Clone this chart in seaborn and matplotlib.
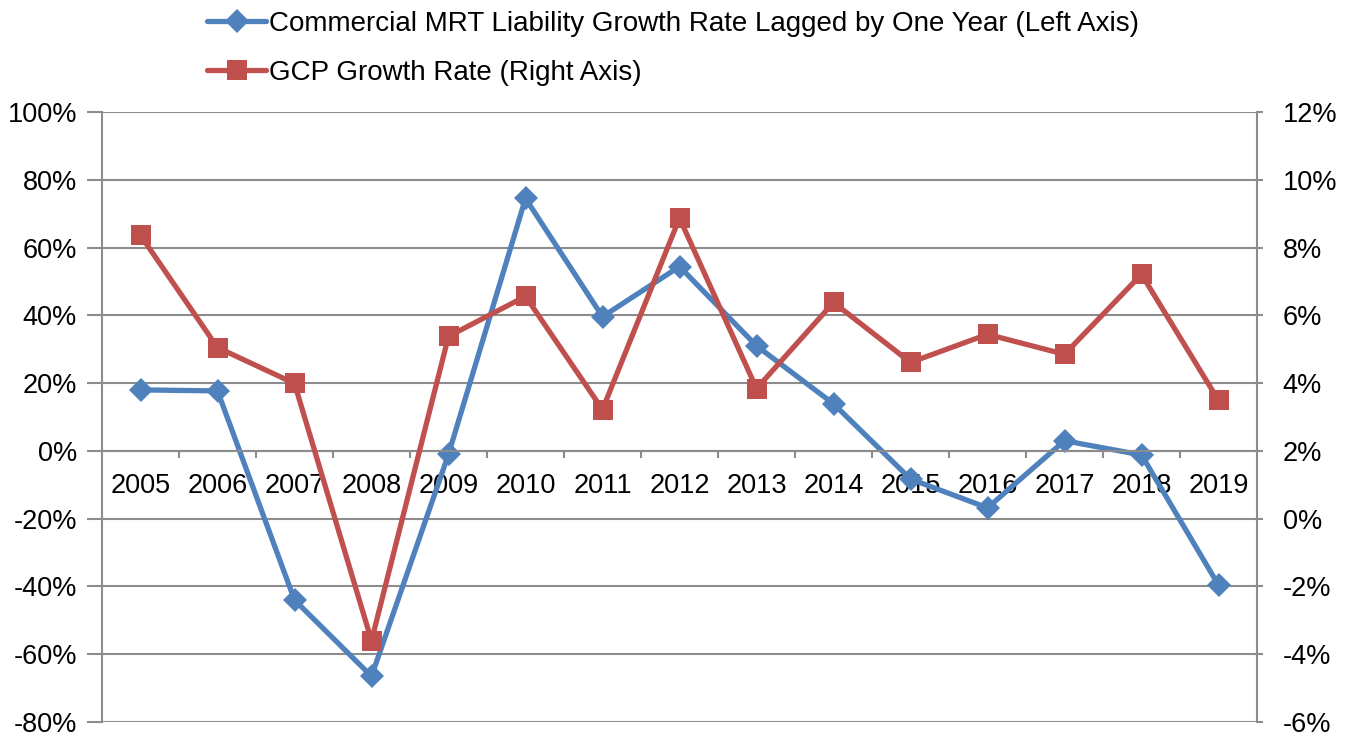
import numpy as np
import pandas as pd
import matplotlib
matplotlib.use("Agg")
import matplotlib.pyplot as plt
import seaborn as sns
from matplotlib.ticker import FuncFormatter, FixedLocator

years = [2005, 2006, 2007, 2008, 2009, 2010, 2011, 2012, 2013, 2014, 2015, 2016, 2017, 2018, 2019]
mrt_growth = [18.0, 17.7, -44.0, -66.5, -1.0, 74.5, 39.6, 54.4, 31.0, 13.9, -8.3, -16.8, 3.0, -1.2, -39.6]
gcp_growth = [8.36, 5.05, 3.99, -3.6, 5.38, 6.56, 3.22, 8.87, 3.84, 6.38, 4.61, 5.44, 4.85, 7.21, 3.49]
left_ticks = [-80, -60, -40, -20, 0, 20, 40, 60, 80, 100]
right_ticks = [-6, -4, -2, 0, 2, 4, 6, 8, 10, 12]
label_mrt = "Commercial MRT Liability Growth Rate Lagged by One Year (Left Axis)"
label_gcp = "GCP Growth Rate (Right Axis)"

sns.set_style("white")
plt.rcParams['font.family'] = ['Liberation Sans', 'DejaVu Sans']
plt.rcParams['text.color'] = 'black'
plt.rcParams['xtick.labelcolor'] = 'black'
plt.rcParams['ytick.labelcolor'] = 'black'

blue = "#4F81BD"
red = "#C0504D"
grid_c = "#8C8C8C"

df = pd.DataFrame({"year": years, "mrt": mrt_growth, "gcp": gcp_growth})

fig = plt.figure(figsize=(13.53, 7.36), dpi=100)
ax = fig.add_axes([102/1353, 1-722/736, (1257-102)/1353, (722-112)/736])
ax2 = ax.twinx()

sns.lineplot(data=df, x="year", y="mrt", ax=ax, color=blue, linewidth=3.8,
             marker="D", markersize=12, markeredgewidth=0, label=label_mrt, legend=False)
sns.lineplot(data=df, x="year", y="gcp", ax=ax2, color=red, linewidth=3.8,
             marker="s", markersize=15, markeredgewidth=0, label=label_gcp, legend=False)

ax.set_xlim(years[0]-0.5, years[-1]+0.5)
ax.set_ylim(left_ticks[0], left_ticks[-1])
ax2.set_ylim(right_ticks[0], right_ticks[-1])
ax.set_yticks(left_ticks)
ax2.set_yticks(right_ticks)
ax.yaxis.set_major_formatter(FuncFormatter(lambda v, p: f"{v:.0f}%"))
ax2.yaxis.set_major_formatter(FuncFormatter(lambda v, p: f"{v:.0f}%"))
ax.set_xticks(years)
ax.set_xticklabels([str(y) for y in years])
ax.xaxis.set_minor_locator(FixedLocator([y + 0.5 for y in years[:-1]]))
ax.set_xlabel("")
ax.set_ylabel("")
ax2.set_ylabel("")

ax.grid(axis="y", color=grid_c, linewidth=1.5)
ax.set_axisbelow(True)
ax2.grid(False)

for sp in ["top"]:
    ax.spines[sp].set_visible(False)
    ax2.spines[sp].set_visible(False)
ax.spines["bottom"].set_position(("data", 0))
ax2.spines["bottom"].set_visible(False)
ax2.spines["left"].set_visible(False)
ax.spines["right"].set_visible(False)
for s in [ax.spines["left"], ax.spines["bottom"], ax2.spines["right"]]:
    s.set_color(grid_c)
    s.set_linewidth(1.5)

ax.tick_params(axis="y", which="major", direction="out", length=11, width=1.5, color=grid_c,
               labelsize=19.5, pad=7, left=True, labelcolor="black")
ax2.tick_params(axis="y", which="major", direction="out", length=4.5, width=1.5, color=grid_c,
                labelsize=19.5, pad=14, right=True, labelcolor="black")
ax.tick_params(axis="x", which="major", length=0, labelsize=19.5, pad=16, bottom=True, labelcolor="black")
ax.tick_params(axis="x", which="minor", direction="out", length=5, width=1.5, color=grid_c, bottom=True)

h1, l1 = ax.get_legend_handles_labels()
h2, l2 = ax2.get_legend_handles_labels()
fig.legend(h1 + h2, l1 + l2, loc="upper left", bbox_to_anchor=(196/1353, 1.0),
           frameon=False, fontsize=20, handlelength=2.12, handletextpad=0.1,
           labelspacing=0.83, borderaxespad=0.0)

fig.savefig("out.png", dpi=100)
